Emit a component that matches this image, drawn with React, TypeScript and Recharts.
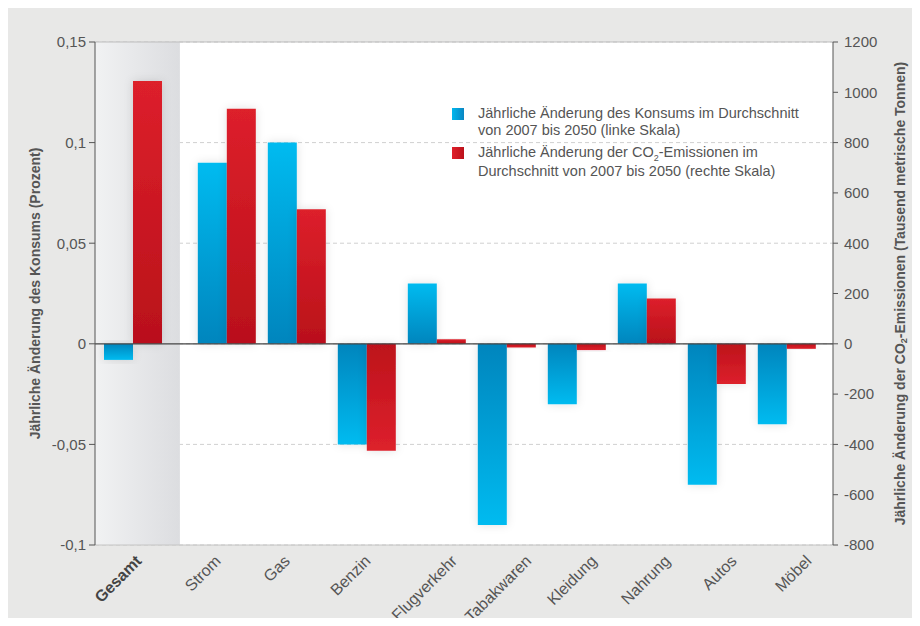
import React from "react";
import {
  Bar,
  BarChart,
  CartesianGrid,
  Cell,
  ReferenceArea,
  ReferenceLine,
  XAxis,
  YAxis,
} from "recharts";

const CATEGORIES = [
  "Gesamt",
  "Strom",
  "Gas",
  "Benzin",
  "Flugverkehr",
  "Tabakwaren",
  "Kleidung",
  "Nahrung",
  "Autos",
  "Möbel",
];
// Jährliche Änderung des Konsums (Prozent), linke Skala
const KONSUM = [-0.008, 0.09, 0.1, -0.05, 0.03, -0.09, -0.03, 0.03, -0.07, -0.04];
// Jährliche Änderung der CO2-Emissionen (Tausend t), rechte Skala
const CO2 = [1045, 935, 535, -425, 18, -15, -25, 180, -160, -20];

const LEFT_TICKS = [-0.1, -0.05, 0, 0.05, 0.1, 0.15];
const RIGHT_TICKS = [-800, -600, -400, -200, 0, 200, 400, 600, 800, 1000, 1200];

// "Gesamt" is set apart from the other categories by a small gap
const TOTAL_GAP = 0.34;
const slot = (i: number) => (i === 0 ? 0 : i + TOTAL_GAP);

const data = CATEGORIES.map((name, i) => ({
  name,
  pos: slot(i),
  konsum: KONSUM[i],
  co2: CO2[i],
}));

const FONT = '"Liberation Sans", Arial, sans-serif';
const GREY = "#555";
const COS45 = Math.SQRT1_2;

let ctx: CanvasRenderingContext2D | null = null;
const textWidth = (s: string, font: string) => {
  if (!ctx) ctx = document.createElement("canvas").getContext("2d");
  if (!ctx) return s.length * 8;
  ctx.font = font;
  return ctx.measureText(s).width;
};

// rotated labels: centred on their (evenly spaced) category slot, tops aligned
const XTick = (props: any) => {
  const { x, y, payload } = props;
  const name = payload.value as string;
  const bold = name === CATEGORIES[0];
  const font = `${bold ? "bold " : ""}16px "Liberation Sans"`;
  const half = (textWidth(name, font) / 2) * COS45;
  const ex = x + (bold ? -10 : 1) + half;
  const ey = y + 17;
  return (
    <text
      x={ex}
      y={ey}
      textAnchor="end"
      transform={`rotate(-45, ${ex}, ${ey})`}
      fontFamily={FONT}
      fontSize={16}
      fontWeight={bold ? "bold" : "normal"}
      fill={bold ? "#444" : GREY}
    >
      {name}
    </text>
  );
};

const LeftLabel = (props: any) => {
  const { viewBox } = props;
  const cy = viewBox.y + viewBox.height / 2;
  return (
    <text
      x={27}
      y={cy}
      transform={`rotate(-90, 27, ${cy})`}
      textAnchor="middle"
      dominantBaseline="central"
      fontFamily={FONT}
      fontSize={14}
      fontWeight="bold"
      fill={GREY}
    >
      Jährliche Änderung des Konsums (Prozent)
    </text>
  );
};

const RightLabel = (props: any) => {
  const { viewBox } = props;
  const cy = viewBox.y + viewBox.height / 2;
  const cx = 892;
  return (
    <text
      x={cx}
      y={cy}
      transform={`rotate(-90, ${cx}, ${cy})`}
      textAnchor="middle"
      dominantBaseline="central"
      fontFamily={FONT}
      fontSize={14}
      fontWeight="bold"
      fill={GREY}
    >
      Jährliche Änderung der CO
      <tspan dy={4} fontSize={9}>
        2
      </tspan>
      <tspan dy={-4}>-Emissionen (Tausend metrische Tonnen)</tspan>
    </text>
  );
};

const LegendBox = () => {
  const item = (grad: string, lines: React.ReactNode[], mt: number) => (
    <div style={{ display: "flex", marginTop: mt }}>
      <div
        style={{
          width: 12,
          height: 12,
          marginTop: 3,
          marginRight: 14,
          background: grad,
          flexShrink: 0,
        }}
      />
      <div>
        {lines.map((l, i) => (
          <div key={i}>{l}</div>
        ))}
      </div>
    </div>
  );
  return (
    <div
      style={{
        position: "absolute",
        left: 444,
        top: 97,
        fontFamily: FONT,
        fontSize: 14.5,
        lineHeight: "17px",
        color: GREY,
        whiteSpace: "nowrap",
      }}
    >
      {item(
        "linear-gradient(to right, #00b7ee, #0a86c2)",
        ["Jährliche Änderung des Konsums im Durchschnitt", "von 2007 bis 2050 (linke Skala)"],
        0
      )}
      {item(
        "linear-gradient(to right, #e0202b, #bb111b)",
        [
          <>
            Jährliche Änderung der CO
            <span style={{ fontSize: 9, position: "relative", top: 4 }}>2</span>-Emissionen im
          </>,
          "Durchschnitt von 2007 bis 2050 (rechte Skala)",
        ],
        5
      )}
    </div>
  );
};

export default function App() {
  return (
    <div style={{ width: 904, height: 610, background: "#e8e8e7", position: "relative" }}>
      <BarChart
        width={904}
        height={618}
        data={data}
        margin={{ top: 34, right: 0, bottom: 8, left: 0 }}
        barGap={0}
        barSize={29}
        style={{ position: "absolute", left: 0, top: 0 }}
      >
        <defs>
          <linearGradient id="blueUp" x1="0" y1="0" x2="0" y2="1">
            <stop offset="0%" stopColor="#00bbf0" />
            <stop offset="100%" stopColor="#0085bd" />
          </linearGradient>
          <linearGradient id="blueDown" x1="0" y1="0" x2="0" y2="1">
            <stop offset="0%" stopColor="#0085bd" />
            <stop offset="100%" stopColor="#00bbf0" />
          </linearGradient>
          <linearGradient id="redUp" x1="0" y1="0" x2="0" y2="1">
            <stop offset="0%" stopColor="#dd202b" />
            <stop offset="100%" stopColor="#b9101a" />
          </linearGradient>
          <linearGradient id="redDown" x1="0" y1="0" x2="0" y2="1">
            <stop offset="0%" stopColor="#bd111b" />
            <stop offset="100%" stopColor="#dd212c" />
          </linearGradient>
          <linearGradient id="band" x1="0" y1="0" x2="1" y2="0">
            <stop offset="0%" stopColor="#f1f2f3" />
            <stop offset="100%" stopColor="#dcdde0" />
          </linearGradient>
          <filter id="shadow" x="-40%" y="-20%" width="180%" height="140%">
            <feDropShadow dx="0" dy="0" stdDeviation="5" floodColor="#000" floodOpacity="0.12" />
          </filter>
        </defs>
        <CartesianGrid
          xAxisId="cat"
          yAxisId="left"
          vertical={false}
          fill="#fff"
          stroke="#d0d0d0"
          strokeDasharray="4 3"
        />
        {/* bar positions (Gesamt offset) */}
        <XAxis
          xAxisId="num"
          dataKey="pos"
          type="number"
          domain={[-0.543, 10.0]}
          allowDataOverflow
          hide
        />
        {/* category labels, evenly spaced */}
        <XAxis
          xAxisId="cat"
          dataKey="name"
          type="category"
          interval={0}
          height={73}
          tick={<XTick />}
          tickLine={false}
          tickSize={0}
          tickMargin={0}
          axisLine={{ stroke: "#c4c4c4" }}
        />
        <YAxis
          yAxisId="left"
          domain={[-0.1, 0.15]}
          ticks={LEFT_TICKS}
          width={87}
          tickSize={6}
          tickMargin={3}
          axisLine={{ stroke: GREY }}
          tickLine={{ stroke: GREY }}
          tick={{ fontFamily: FONT, fontSize: 15, fill: GREY }}
          tickFormatter={(v: number) => String(v).replace(".", ",")}
          label={<LeftLabel />}
        />
        <YAxis
          yAxisId="right"
          orientation="right"
          domain={[-800, 1200]}
          ticks={RIGHT_TICKS}
          width={79}
          tickSize={5}
          tickMargin={6}
          axisLine={{ stroke: GREY }}
          tickLine={{ stroke: GREY }}
          tick={{ fontFamily: FONT, fontSize: 15, fill: GREY, textAnchor: "start" }}
          label={<RightLabel />}
        />
        <ReferenceArea
          xAxisId="num"
          yAxisId="left"
          x1={-0.543}
          x2={0.67}
          y1={-0.1}
          y2={0.15}
          fill="url(#band)"
          fillOpacity={1}
          stroke="none"
          ifOverflow="visible"
        />
        <ReferenceLine xAxisId="num" yAxisId="left" y={0.15} stroke="#bdbdbd" />
        <Bar
          xAxisId="num"
          yAxisId="left"
          dataKey="konsum"
          isAnimationActive={false}
          filter="url(#shadow)"
        >
          {data.map((d) => (
            <Cell key={d.name} fill={d.konsum >= 0 ? "url(#blueUp)" : "url(#blueDown)"} />
          ))}
        </Bar>
        <Bar
          xAxisId="num"
          yAxisId="right"
          dataKey="co2"
          isAnimationActive={false}
          filter="url(#shadow)"
        >
          {data.map((d) => (
            <Cell key={d.name} fill={d.co2 >= 0 ? "url(#redUp)" : "url(#redDown)"} />
          ))}
        </Bar>
        <ReferenceLine xAxisId="num" yAxisId="left" y={0} stroke="#444" strokeWidth={1.2} />
      </BarChart>
      <LegendBox />
    </div>
  );
}
